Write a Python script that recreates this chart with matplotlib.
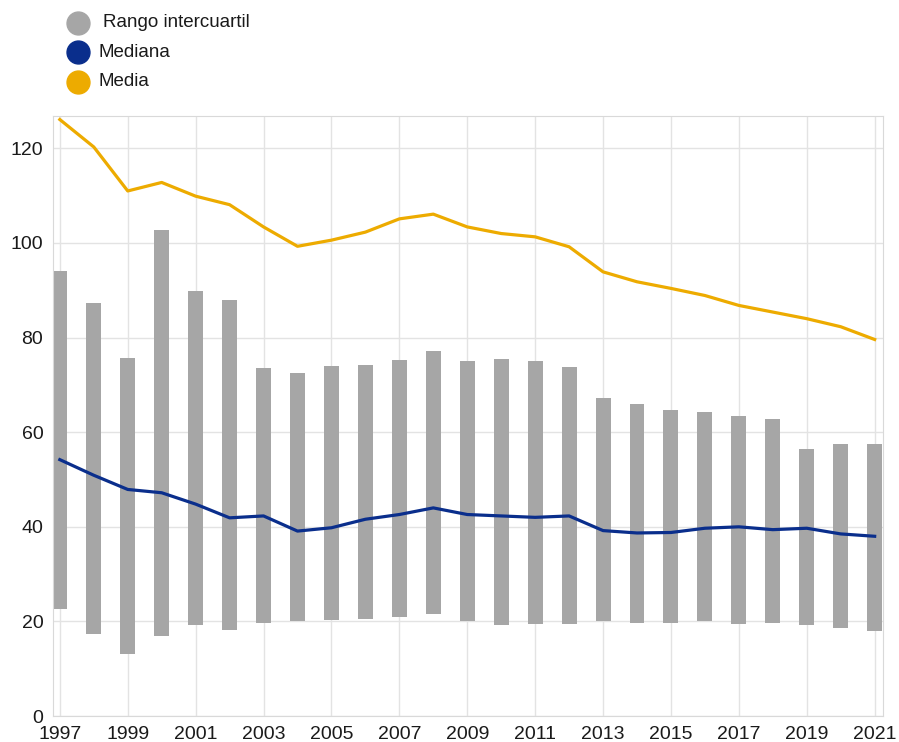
import numpy as np
import matplotlib
matplotlib.use("Agg")
import matplotlib.pyplot as plt
from matplotlib.lines import Line2D

plt.rcParams['font.family'] = ['Liberation Sans', 'DejaVu Sans']

# datos
years = list(range(1997, 2022))
iqr_low = [22.7, 17.3, 13.2, 17.0, 19.2, 18.1, 19.6, 20.1, 20.4, 20.6, 20.9, 21.6, 20.0,
           19.3, 19.4, 19.4, 20.1, 19.7, 19.7, 20.0, 19.4, 19.6, 19.2, 18.6, 18.0]
iqr_high = [94.1, 87.3, 75.7, 102.8, 89.9, 88.0, 73.6, 72.5, 73.9, 74.3, 75.2, 77.1, 75.0,
            75.4, 75.1, 73.7, 67.2, 65.9, 64.7, 64.2, 63.5, 62.8, 56.4, 57.6, 57.5]
mediana = [54.2, 50.9, 47.9, 47.2, 44.8, 41.9, 42.3, 39.1, 39.8, 41.6, 42.6, 44.0, 42.6,
           42.3, 42.0, 42.3, 39.2, 38.7, 38.8, 39.7, 40.0, 39.4, 39.7, 38.5, 38.0]
media = [126.1, 120.3, 111.0, 112.8, 109.9, 108.1, 103.4, 99.3, 100.6, 102.3, 105.1, 106.1, 103.4,
         102.0, 101.3, 99.2, 93.9, 91.8, 90.4, 88.9, 86.8, 85.4, 84.0, 82.3, 79.6]
labels = ['Rango intercuartil', 'Mediana', 'Media']

gray = '#A6A6A6'
blue = '#0A2E8C'
yellow = '#EDAB00'
grid_c = '#E3E3E3'

fig = plt.figure(figsize=(8.99, 7.42), dpi=100)
ax = fig.add_axes([0.059, 0.035, 0.923, 0.809])

heights = np.array(iqr_high) - np.array(iqr_low)
ax.bar(years, heights, bottom=iqr_low, width=0.44, color=gray, zorder=2)
ax.plot(years, mediana, color=blue, lw=2.3, zorder=3)
ax.plot(years, media, color=yellow, lw=2.3, zorder=3)

ax.set_xlim(1996.8, 2021.24)
ax.set_ylim(0, 126.9)
ax.set_xticks(years[::2])
ax.set_yticks(range(0, 121, 20))
ax.grid(True, color=grid_c, lw=1, zorder=0)
for s in ax.spines.values():
    s.set_color('#D9D9D9')
ax.tick_params(length=0, labelsize=14, colors='#1a1a1a')
ax.tick_params(axis='x', pad=7)
ax.tick_params(axis='y', pad=7)

# leyenda manual arriba a la izquierda
cols = [gray, blue, yellow]
ys = [22.7, 52.3, 81.7]
xs_text = [103, 99, 99]
W, H = 899, 742
for lab, c, yy, xt in zip(labels, cols, ys, xs_text):
    fig.add_artist(Line2D([78 / W], [1 - yy / H], marker='o', markersize=16.5,
                          color=c, transform=fig.transFigure, linestyle='none'))
    fig.text(xt / W, 1 - yy / H, lab, fontsize=13.5, va='center', ha='left', color='#1a1a1a')

fig.savefig('out.png', dpi=100)
